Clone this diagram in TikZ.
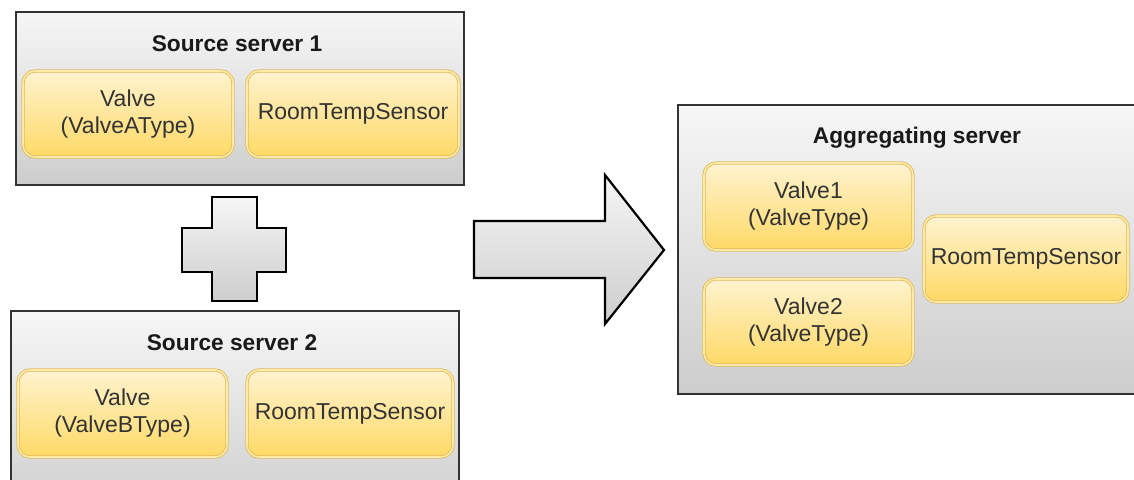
\documentclass[tikz,border=0pt]{standalone}
\usepackage{fontspec}
\setmainfont{Liberation Sans}
\definecolor{gtop}{HTML}{F6F6F6}
\definecolor{gbot}{HTML}{CDCDCD}
\definecolor{ytop}{HTML}{FFF3D0}
\definecolor{ybot}{HTML}{FFD966}
\definecolor{yborder}{HTML}{DDBB5C}
\definecolor{txt}{HTML}{333333}
\begin{document}
\begin{tikzpicture}[x=1pt,y=-1pt,
  srv/.style={draw=black!80, line width=1.5pt, top color=gtop, bottom color=gbot, inner sep=0pt},
  srvtitle/.style={font=\fontsize{22.7}{26}\selectfont\bfseries, text=black!90, inner sep=0pt},
  ybox/.style={draw=yborder, line width=0.8pt, double=ytop!60!ybot, double distance=1.6pt,
    rounded corners=12pt, top color=ytop, bottom color=ybot, inner sep=1pt,
    font=\fontsize{23}{27}\selectfont, text=txt, align=center},
  shapebox/.style={draw=black, line width=2.2pt, line join=miter, top color=gtop, bottom color=gbot}
]
\useasboundingbox (0,0) rectangle (1134,479);
\clip (0,0) rectangle (1134,479);

% Source server 1
\node[srv, minimum width=448, minimum height=173] (s1) at (240,98.5) {};
\node[srvtitle] (s1t) at (237,44) {Source server 1};
\node[ybox, minimum width=210, minimum height=86] (va) at (128,114) {Valve\\(ValveAType)};
\node[ybox, minimum width=212, minimum height=86] (r1) at (353,114) {RoomTempSensor};

% Plus
\path[shapebox] (212,197) -- (257,197) -- (257,228) -- (286,228) -- (286,272) -- (257,272)
  -- (257,301) -- (212,301) -- (212,272) -- (182,272) -- (182,228) -- (212,228) -- cycle;

% Source server 2
\node[srv, minimum width=448, minimum height=209] (s2) at (235,415.5) {};
\node[srvtitle] (s2t) at (232,343) {Source server 2};
\node[ybox, minimum width=209, minimum height=87] (vb) at (122.5,413.5) {Valve\\(ValveBType)};
\node[ybox, minimum width=206, minimum height=87] (r2) at (350,413.5) {RoomTempSensor};

% Big arrow
\path[shapebox] (474,221) -- (605,221) -- (605,175) -- (664,250) -- (605,324) -- (605,278) -- (474,278) -- cycle;

% Aggregating server
\node[srv, minimum width=482, minimum height=289] (ag) at (919,249.5) {};
\node[srvtitle] (agt) at (917,138) {Aggregating server};
\node[ybox, minimum width=209, minimum height=87] (v1) at (808.5,206.5) {Valve1\\(ValveType)};
\node[ybox, minimum width=209, minimum height=86] (v2) at (808.5,322) {Valve2\\(ValveType)};
\node[ybox, minimum width=204, minimum height=86] (r3) at (1026,259) {RoomTempSensor};
\end{tikzpicture}
\end{document}
